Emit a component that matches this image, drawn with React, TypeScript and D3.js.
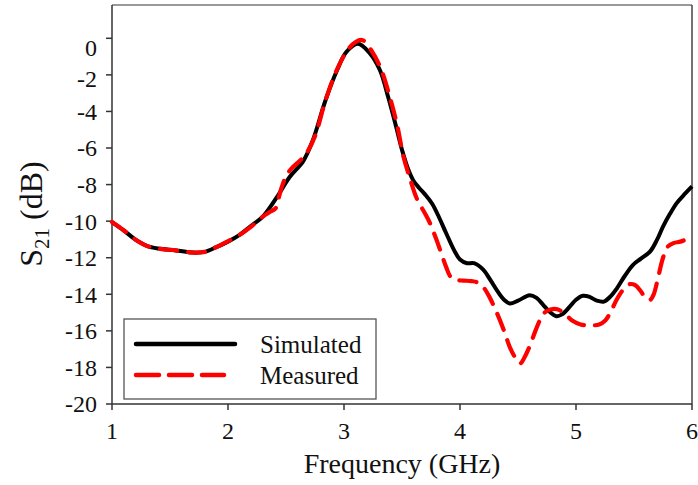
import React from "react";
import * as d3 from "d3";

const xTicks = [1, 2, 3, 4, 5, 6];
const yTicks = [0, -2, -4, -6, -8, -10, -12, -14, -16, -18, -20];

const simFreq = [1.0, 1.1, 1.2, 1.3, 1.4, 1.55, 1.7, 1.8, 1.9, 2.0, 2.1, 2.2, 2.3, 2.42, 2.53, 2.65, 2.73, 2.84, 2.94, 3.02, 3.12, 3.22, 3.31, 3.38, 3.45, 3.5, 3.55, 3.6, 3.65, 3.7, 3.76, 3.82, 3.88, 3.95, 4.0, 4.06, 4.12, 4.2, 4.26, 4.32, 4.38, 4.43, 4.5, 4.6, 4.66, 4.72, 4.78, 4.83, 4.88, 4.95, 5.0, 5.06, 5.12, 5.18, 5.24, 5.3, 5.35, 5.42, 5.49, 5.56, 5.64, 5.7, 5.75, 5.81, 5.87, 5.94, 6.0];
const simDb = [-10.05, -10.5, -11.0, -11.35, -11.5, -11.6, -11.72, -11.68, -11.42, -11.12, -10.75, -10.25, -9.75, -8.7, -7.6, -6.7, -5.6, -3.4, -1.75, -0.75, -0.3, -0.8, -1.75, -3.2, -4.85, -6.1, -7.1, -7.8, -8.2, -8.55, -9.05, -9.8, -10.65, -11.6, -12.1, -12.3, -12.3, -12.65, -13.2, -13.8, -14.3, -14.5, -14.35, -14.05, -14.2, -14.6, -15.0, -15.2, -15.1, -14.65, -14.3, -14.08, -14.15, -14.35, -14.4, -14.1, -13.7, -13.0, -12.4, -12.05, -11.65, -11.0, -10.3, -9.6, -9.0, -8.5, -8.1];

const measFreq = [1.0, 1.1, 1.2, 1.3, 1.4, 1.55, 1.7, 1.8, 1.9, 2.0, 2.1, 2.2, 2.3, 2.36, 2.41, 2.43, 2.46, 2.5, 2.55, 2.61, 2.67, 2.75, 2.84, 2.94, 3.03, 3.1, 3.16, 3.24, 3.32, 3.39, 3.46, 3.51, 3.57, 3.63, 3.7, 3.74, 3.79, 3.83, 3.88, 3.92, 3.97, 4.03, 4.1, 4.15, 4.2, 4.25, 4.32, 4.38, 4.43, 4.48, 4.52, 4.56, 4.6, 4.65, 4.69, 4.73, 4.78, 4.84, 4.9, 4.97, 5.04, 5.12, 5.2, 5.25, 5.3, 5.35, 5.4, 5.46, 5.51, 5.56, 5.6, 5.64, 5.67, 5.7, 5.75, 5.79, 5.84, 5.9, 5.95, 6.0];
const measDb = [-10.05, -10.5, -11.0, -11.35, -11.5, -11.6, -11.72, -11.68, -11.42, -11.1, -10.75, -10.3, -9.75, -9.5, -9.3, -8.9, -8.2, -7.55, -7.1, -6.75, -6.35, -5.35, -3.4, -1.7, -0.65, -0.2, -0.1, -0.7, -1.7, -3.1, -4.8, -6.4, -7.7, -8.8, -9.6, -10.1, -10.9, -11.6, -12.5, -13.05, -13.22, -13.25, -13.28, -13.35, -13.6, -14.1, -15.05, -16.0, -16.9, -17.5, -17.78, -17.4, -16.85, -16.0, -15.4, -15.0, -14.83, -14.82, -15.05, -15.45, -15.65, -15.7, -15.65, -15.45, -14.95, -14.3, -13.8, -13.45, -13.5, -13.85, -14.2, -14.3, -14.0, -13.3, -12.0, -11.4, -11.2, -11.12, -11.0, -10.85];

const seriesNames = ["Simulated", "Measured"];

const W = 698;
const H = 485;
const L = 112;
const R = 692;
const T = 5;
const B = 404;

export default function App() {
  const x = d3.scaleLinear().domain([1, 6]).range([L, R]);
  const y = d3.scaleLinear().domain([-20, 0]).range([B, 38.3]);

  const line = d3
    .line<[number, number]>()
    .x((d) => x(d[0]))
    .y((d) => y(d[1]))
    .curve(d3.curveCatmullRom.alpha(0.5));

  const sim: [number, number][] = simFreq.map((f, i) => [f, simDb[i]]);
  const meas: [number, number][] = measFreq.map((f, i) => [f, measDb[i]]);

  const font = "'Liberation Serif', 'Times New Roman', serif";

  return (
    <svg
      width={W}
      height={H}
      style={{ position: "absolute", left: 0, top: 0, background: "#fff" }}
      fontFamily={font}
    >
      <rect x={0} y={0} width={W} height={H} fill="#fff" />
      {/* frame */}
      <line x1={L} x2={R} y1={T} y2={T} stroke="#777" strokeWidth={1.5} />
      <line x1={R} x2={R} y1={T} y2={B} stroke="#444" strokeWidth={1.5} />
      <line x1={L} x2={L} y1={T} y2={B} stroke="#333" strokeWidth={1.5} />
      <line x1={L} x2={R} y1={B} y2={B} stroke="#333" strokeWidth={1.5} />

      {/* y ticks */}
      {yTicks.map((t) => (
        <g key={"y" + t}>
          <line x1={L - 6} x2={L} y1={y(t)} y2={y(t)} stroke="#333" strokeWidth={1.5} />
          <text
            x={97}
            y={y(t) + (t === 0 ? 9 : t === -2 ? 4 : 0)}
            dy="0.35em"
            textAnchor="end"
            fontSize={24}
            fill="#111"
          >
            {String(t)}
          </text>
        </g>
      ))}

      {/* x ticks */}
      {xTicks.map((t) => (
        <g key={"x" + t}>
          <line x1={x(t)} x2={x(t)} y1={B} y2={B + 6} stroke="#333" strokeWidth={1.5} />
          <text x={x(t)} y={438.5} textAnchor="middle" fontSize={24} fill="#111">
            {String(t)}
          </text>
        </g>
      ))}

      {/* axis titles */}
      <text x={402} y={473} textAnchor="middle" fontSize={28} fill="#111">
        Frequency (GHz)
      </text>
      <text
        transform={`translate(42,214) rotate(-90)`}
        textAnchor="middle"
        fontSize={32}
        fill="#111"
      >
        S<tspan fontSize={21} dy={7}>21</tspan>
        <tspan dy={-7}> (dB)</tspan>
      </text>

      {/* curves */}
      <path d={line(sim) || ""} fill="none" stroke="#000" strokeWidth={4} strokeLinejoin="round" />
      <path
        d={line(meas) || ""}
        fill="none"
        stroke="#ff0000"
        strokeWidth={4.2}
        strokeDasharray="17,11"
        strokeLinecap="round"
        strokeLinejoin="round"
      />

      {/* legend */}
      <rect x={124} y={319} width={252} height={80} fill="#fff" stroke="#555" strokeWidth={1.3} />
      <line x1={136} x2={235} y1={344} y2={344} stroke="#000" strokeWidth={4.5} strokeLinecap="round" />
      <line
        x1={136}
        x2={224}
        y1={375}
        y2={375}
        stroke="#ff0000"
        strokeWidth={4.5}
        strokeDasharray="23,10"
        strokeLinecap="round"
      />
      <text x={260} y={353} fontSize={25} fill="#111">
        {seriesNames[0]}
      </text>
      <text x={260} y={384} fontSize={25} fill="#111">
        {seriesNames[1]}
      </text>
    </svg>
  );
}
